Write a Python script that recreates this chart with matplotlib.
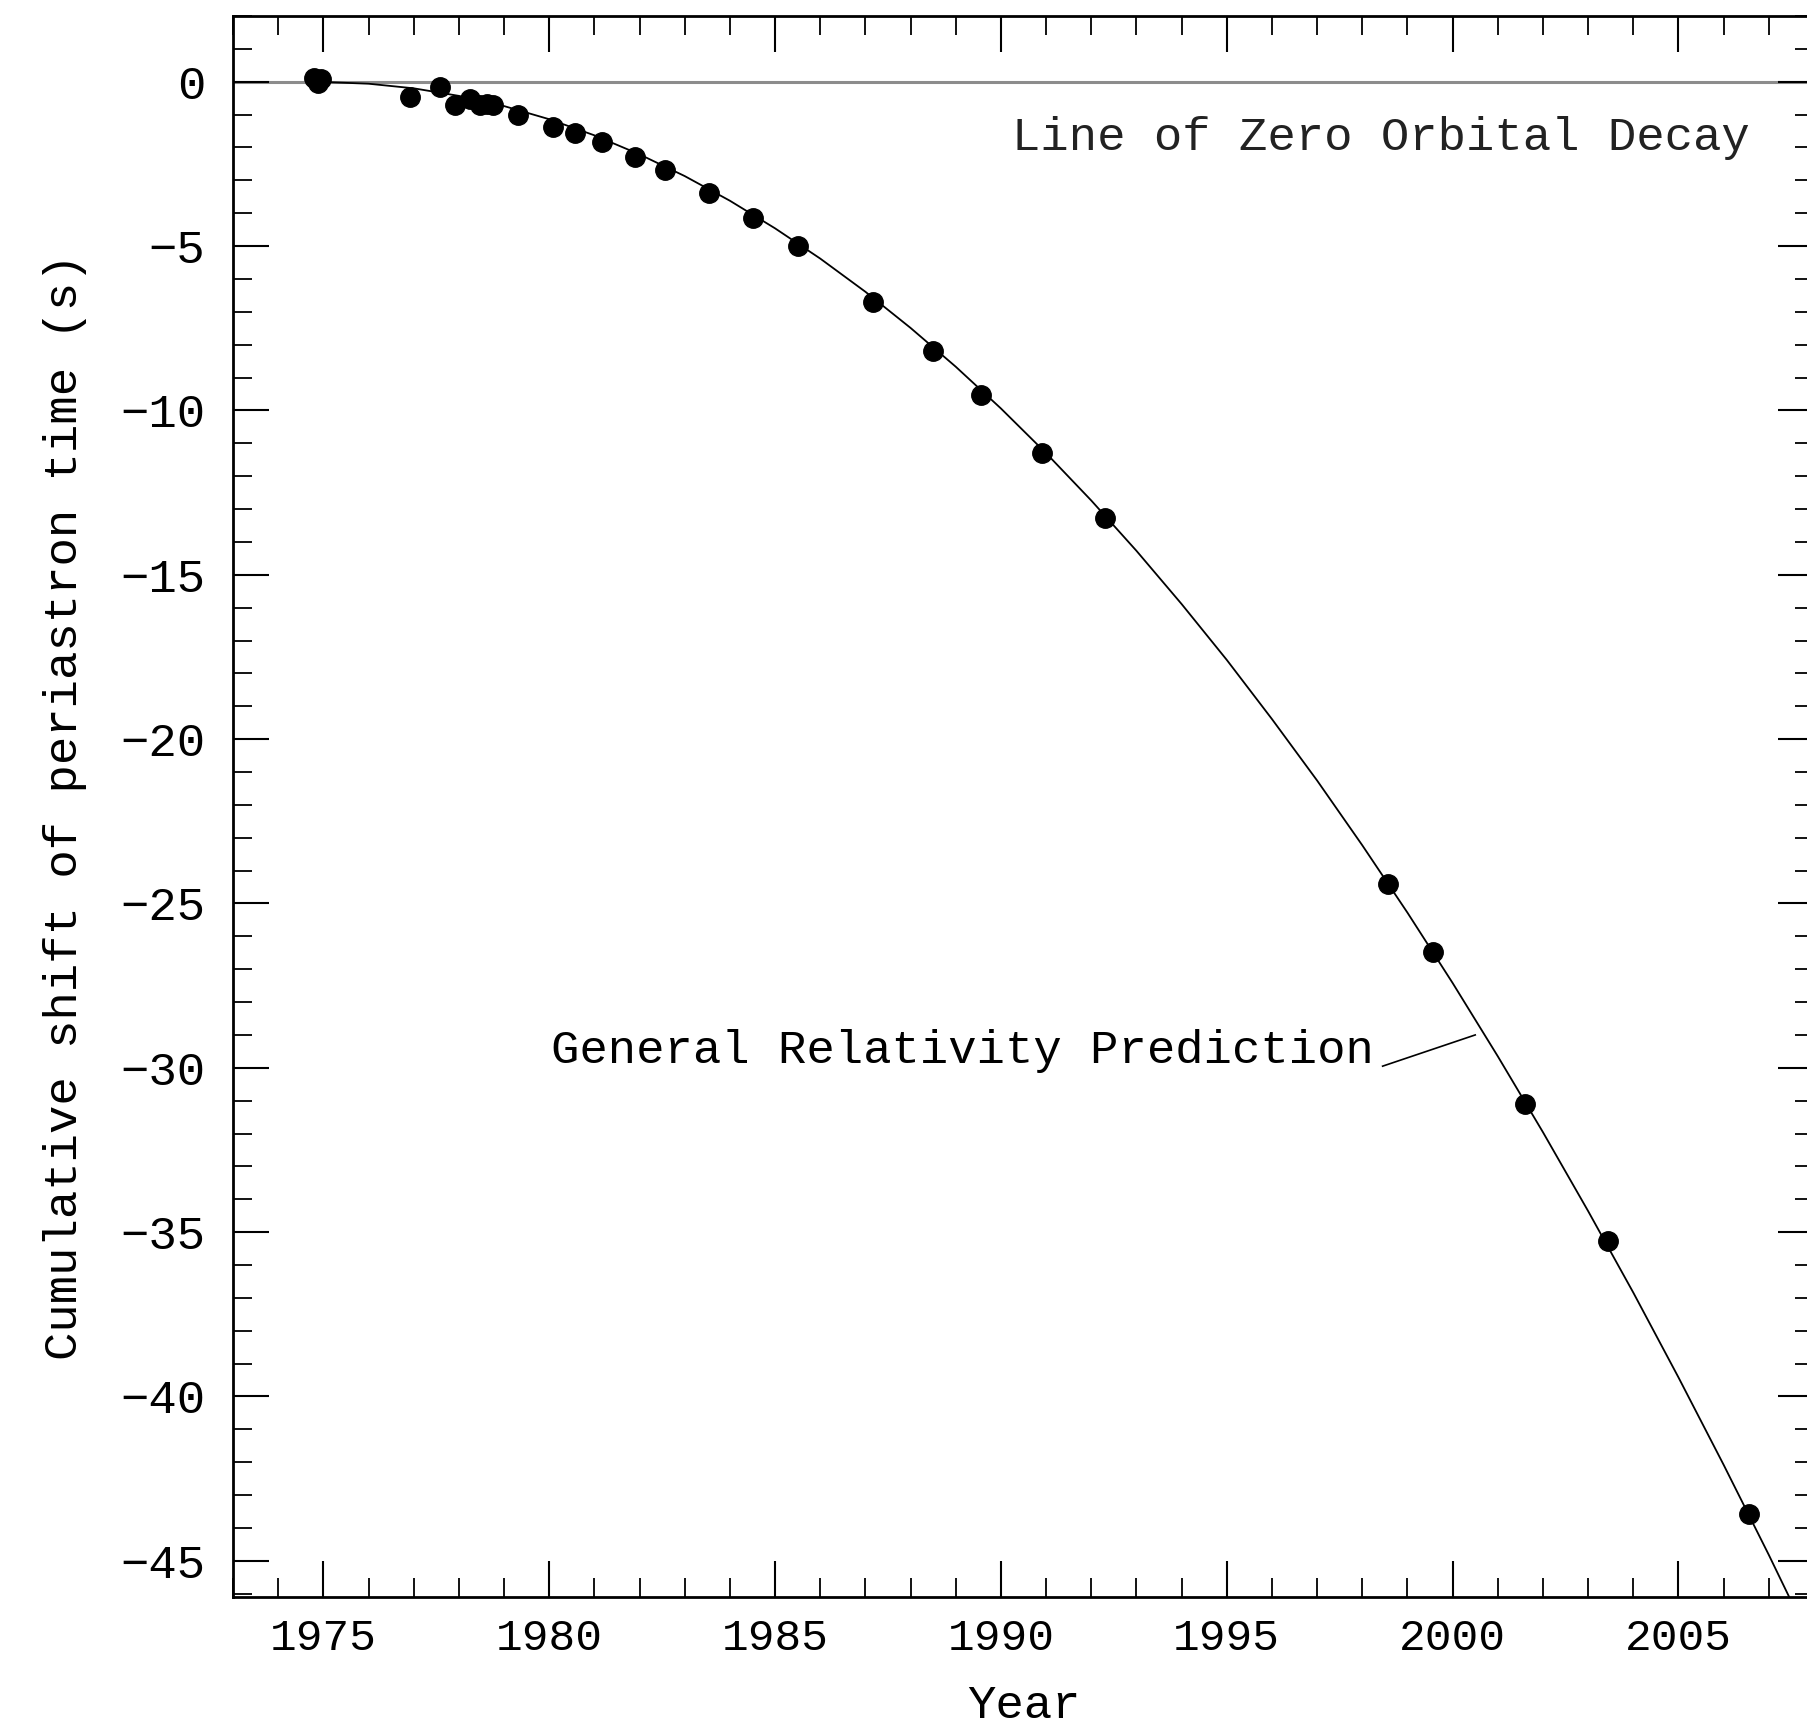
import matplotlib
matplotlib.use("Agg")
import matplotlib.pyplot as plt
from matplotlib.ticker import MultipleLocator

# measured points (year, cumulative periastron shift in s)
obs_years = [1974.8, 1974.88, 1974.95, 1976.92, 1977.58, 1977.91, 1978.25, 1978.47,
             1978.62, 1978.76, 1979.31, 1980.08, 1980.57, 1981.17, 1981.9, 1982.56,
             1983.54, 1984.52, 1985.51, 1987.16, 1988.5, 1989.57, 1990.9, 1992.3,
             1998.58, 1999.56, 2001.6, 2003.43, 2006.55]
obs_shift = [0.12, -0.05, 0.08, -0.46, -0.15, -0.71, -0.51, -0.71,
             -0.68, -0.71, -1.01, -1.37, -1.57, -1.82, -2.28, -2.7,
             -3.39, -4.15, -5.01, -6.7, -8.2, -9.54, -11.29, -13.26,
             -24.41, -26.47, -31.1, -35.28, -43.58]

# general relativity prediction curve
gr_years = [1974.87, 1976, 1977, 1978, 1979, 1980, 1981, 1982, 1983, 1984, 1985,
            1986, 1987, 1988, 1989, 1990, 1991, 1992, 1993, 1994, 1995, 1996,
            1997, 1998, 1999, 2000, 2001, 2002, 2003, 2004, 2005, 2006, 2007, 2008]
gr_shift = [0.0, -0.06, -0.20, -0.43, -0.74, -1.14, -1.63, -2.21, -2.87, -3.62, -4.46,
            -5.38, -6.39, -7.49, -8.67, -9.94, -11.30, -12.74, -14.27, -15.89, -17.59, -19.39,
            -21.26, -23.23, -25.28, -27.42, -29.65, -31.96, -34.36, -36.84, -39.42, -42.08, -44.82, -47.66]

x_range = (1973, 2008)
y_range = (-46.1, 2)

font = ["Liberation Mono", "DejaVu Sans Mono"]
fsize = 34

fig = plt.figure(figsize=(18.08, 17.30), dpi=100)
ax = fig.add_axes([0.12887, 0.07688, 0.87445, 0.91387])

ax.axhline(0, color="#8c8c8c", lw=2.2, zorder=1)
ax.plot(gr_years, gr_shift, color="black", lw=1.3, zorder=2)
ax.plot(obs_years, obs_shift, "o", color="black", ms=14, mec="black", zorder=3)

ax.text(2006.58, -1.7, "Line of Zero Orbital Decay", ha="right", va="center",
        fontsize=fsize, family=font, color="#222222")
ax.text(1980.05, -29.5, "General Relativity Prediction", ha="left", va="center",
        fontsize=fsize, family=font, color="black")
ax.plot([1998.45, 2000.5], [-29.95, -29.0], color="black", lw=1.2)

ax.set_xlim(*x_range)
ax.set_ylim(*y_range)
ax.xaxis.set_major_locator(MultipleLocator(5))
ax.xaxis.set_minor_locator(MultipleLocator(1))
ax.yaxis.set_major_locator(MultipleLocator(5))
ax.yaxis.set_minor_locator(MultipleLocator(1))
ax.tick_params(which="both", direction="in", top=True, right=True, color="black")
ax.tick_params(which="major", length=26, width=1.5)
ax.tick_params(which="minor", length=14, width=1.3)
ax.tick_params(axis="x", which="major", pad=15, labelsize=32)
ax.tick_params(axis="y", which="major", pad=20, labelsize=34)
for lab in ax.get_xticklabels() + ax.get_yticklabels():
    lab.set_family(font)
for sp in ax.spines.values():
    sp.set_linewidth(2.0)

ax.set_xlabel("Year", fontsize=fsize, family=font)
ax.set_ylabel("Cumulative shift of periastron time (s)", fontsize=fsize, family=font)
ax.xaxis.set_label_coords(0.5, -0.069)
ax.yaxis.set_label_coords(-0.106, 0.5)
ax.xaxis.label.set_va("center")
ax.yaxis.label.set_va("center")

fig.savefig("out.png", dpi=100)
